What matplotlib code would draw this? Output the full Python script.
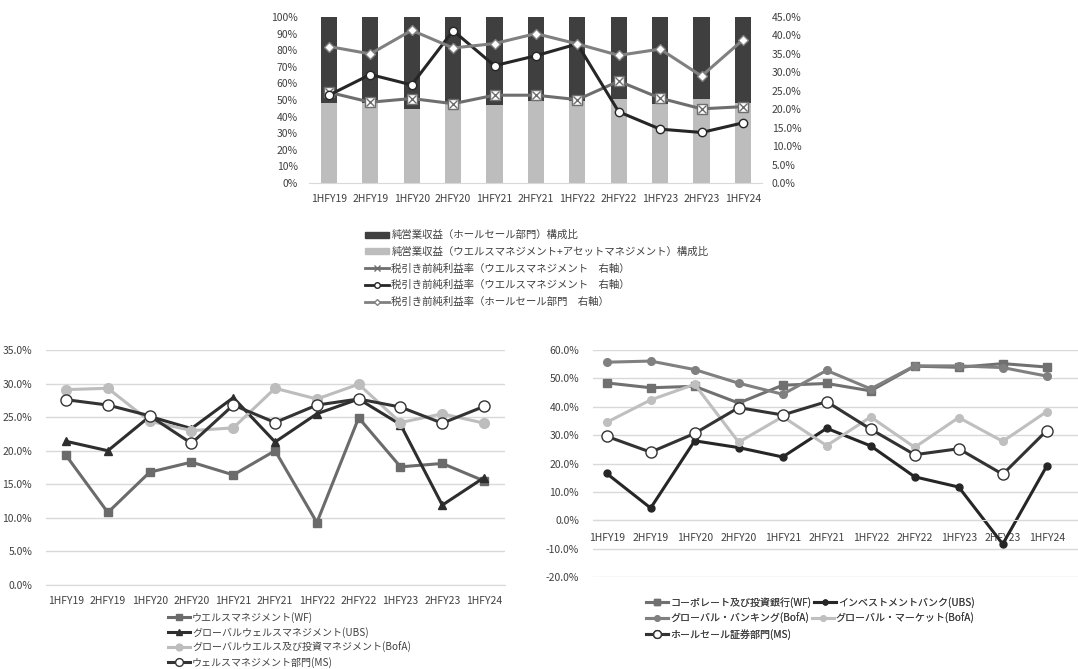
import numpy as np
import matplotlib.pyplot as plt
from matplotlib.ticker import FuncFormatter
from matplotlib.lines import Line2D
from matplotlib.patches import Patch

plt.rcParams['font.family'] = ['Noto Sans CJK JP', 'DejaVu Sans']
plt.rcParams['font.size'] = 7.5
plt.rcParams['text.color'] = '#404040'
plt.rcParams['xtick.color'] = '#404040'
plt.rcParams['ytick.color'] = '#404040'

periods = ['1HFY19', '2HFY19', '1HFY20', '2HFY20', '1HFY21', '2HFY21',
           '1HFY22', '2HFY22', '1HFY23', '2HFY23', '1HFY24']

# 上段：構成比（%）と税引き前純利益率（右軸, %）
wealth_share = [48.2, 48.0, 44.6, 48.0, 47.2, 49.6, 49.2, 50.8, 47.6, 50.8, 48.2]
wholesale_share = [100 - v for v in wealth_share]
margin_wealth_x = [24.6, 21.9, 22.9, 21.5, 23.8, 23.8, 22.6, 27.6, 23.0, 20.1, 20.7]
margin_wealth_o = [23.8, 29.4, 26.6, 41.3, 31.8, 34.5, 37.7, 19.3, 14.6, 13.7, 16.3]
margin_wholesale = [37.0, 35.0, 41.4, 36.6, 37.8, 40.5, 37.7, 34.6, 36.3, 29.0, 38.8]

# 下段左：ウエルスマネジメント部門
wm_wf = [19.3, 10.8, 16.8, 18.3, 16.4, 20.0, 9.3, 24.9, 17.6, 18.1, 15.5]
wm_ubs = [21.4, 20.0, 25.1, 23.3, 27.9, 21.3, 25.5, 27.7, 23.9, 11.9, 16.0]
wm_bofa = [29.1, 29.3, 24.4, 23.0, 23.4, 29.3, 27.7, 29.9, 24.2, 25.5, 24.1]
wm_ms = [27.6, 26.8, 25.2, 21.1, 26.8, 24.2, 26.8, 27.7, 26.5, 24.1, 26.6]

# 下段右：ホールセール部門
ws_wf = [48.4, 46.7, 47.2, 41.3, 47.6, 48.2, 45.6, 54.3, 53.9, 55.2, 54.0]
ws_ubs = [16.5, 4.3, 28.0, 25.6, 22.3, 32.4, 26.2, 15.3, 11.7, -8.4, 19.1]
ws_bofa_gb = [55.7, 56.1, 53.1, 48.3, 44.4, 52.8, 46.3, 54.4, 54.4, 53.8, 50.8]
ws_bofa_gm = [34.5, 42.4, 47.9, 27.5, 36.5, 26.3, 36.4, 25.7, 36.2, 27.8, 38.3]
ws_ms = [29.6, 24.0, 30.6, 39.7, 37.1, 41.8, 32.1, 23.1, 25.2, 16.2, 31.6]

W, H = 1078, 669
x = np.arange(len(periods))
GRID = '#d9d9d9'


def box(l, t, r, b):
    return [l / W, 1 - b / H, (r - l) / W, (b - t) / H]


def clean(ax):
    for s in ['top', 'left', 'right']:
        ax.spines[s].set_visible(False)
    ax.spines['bottom'].set_color(GRID)
    ax.tick_params(length=0)


fig = plt.figure(figsize=(W / 100, H / 100), dpi=100)

# ---- 上段 ----
ax = fig.add_axes(box(309, 17, 762, 183))
ax.bar(x, wealth_share, width=0.39, color='#bdbdbd', zorder=1)
ax.bar(x, wholesale_share, width=0.39, bottom=wealth_share, color='#3f3f3f', zorder=1)
ax.set_ylim(0, 100)
ax.set_xlim(-0.48, 10.46)
ax.set_yticks(np.arange(0, 101, 10))
ax.yaxis.set_major_formatter(FuncFormatter(lambda v, p: f'{v:.0f}%'))
ax.set_xticks(x)
ax.set_xticklabels(periods)
clean(ax)
ax.tick_params(axis='y', pad=8)
ax.tick_params(axis='x', pad=8)

ax2 = ax.twinx()
ax2.set_ylim(0, 45)
ax2.set_yticks(np.arange(0, 46, 5))
ax2.yaxis.set_major_formatter(FuncFormatter(lambda v, p: f'{v:.1f}%'))
for s in ['top', 'left', 'right', 'bottom']:
    ax2.spines[s].set_visible(False)
ax2.tick_params(length=0, pad=7)
ax2.plot(x, margin_wealth_x, color='#6e6e6e', lw=2.2, marker='s', ms=7,
         mfc='white', mec='#6e6e6e', mew=1, zorder=3)
ax2.plot(x, margin_wealth_x, ls='none', marker='x', ms=6, mec='#6e6e6e', mew=1, zorder=3)
ax2.plot(x, margin_wealth_o, color='#262626', lw=2.2, marker='o', ms=6,
         mfc='white', mec='#262626', mew=1, zorder=4)
ax2.plot(x, margin_wholesale, color='#808080', lw=2.2, marker='D', ms=5,
         mfc='white', mec='#808080', mew=1, zorder=4)

top_handles = [
    Patch(color='#3f3f3f'),
    Patch(color='#bdbdbd'),
    Line2D([], [], color='#6e6e6e', lw=2, marker='x', ms=4, mew=1),
    Line2D([], [], color='#262626', lw=2, marker='o', ms=4, mfc='white'),
    Line2D([], [], color='#808080', lw=2, marker='D', ms=3, mfc='white'),
]
top_labels = [
    '純営業収益（ホールセール部門）構成比',
    '純営業収益（ウエルスマネジメント+アセットマネジメント）構成比',
    '税引き前純利益率（ウエルスマネジメント　右軸）',
    '税引き前純利益率（ウエルスマネジメント　右軸）',
    '税引き前純利益率（ホールセール部門　右軸）',
]
fig.legend(top_handles, top_labels, loc='upper left', bbox_to_anchor=(360 / W, 1 - 225 / H),
           frameon=False, fontsize=7.5, handlelength=2.3, handleheight=0.5,
           handletextpad=0.2, labelspacing=0.62, borderpad=0)

# ---- 下段左 ----
ax3 = fig.add_axes(box(46, 350, 505, 585))
ax3.set_ylim(0, 35)
ax3.set_xlim(-0.48, 10.5)
ax3.set_yticks(np.arange(0, 36, 5))
ax3.yaxis.set_major_formatter(FuncFormatter(lambda v, p: f'{v:.1f}%'))
ax3.set_xticks(x)
ax3.set_xticklabels(periods)
ax3.grid(axis='y', color=GRID, lw=1)
ax3.set_axisbelow(True)
clean(ax3)
ax3.tick_params(axis='y', pad=10)
ax3.tick_params(axis='x', pad=8)
l1 = ax3.plot(x, wm_wf, color='#6b6b6b', lw=2.2, marker='s', ms=5.5,
              label='ウエルスマネジメント(WF)')
l2 = ax3.plot(x, wm_ubs, color='#2e2e2e', lw=2.2, marker='^', ms=6,
              label='グローバルウェルスマネジメント(UBS)')
l3 = ax3.plot(x, wm_bofa, color='#bdbdbd', lw=2.2, marker='o', ms=7,
              label='グローバルウエルス及び投資マネジメント(BofA)')
l4 = ax3.plot(x, wm_ms, color='#333333', lw=2.2, marker='o', ms=8,
              mfc='white', mec='#333333', mew=1, label='ウェルスマネジメント部門(MS)')
lines = l1 + l2 + l3 + l4
fig.legend(lines, [l.get_label() for l in lines], loc='upper left',
           bbox_to_anchor=(163 / W, 1 - 607 / H), frameon=False, fontsize=7.2,
           handlelength=2.2, handletextpad=0.2, labelspacing=0.4, borderpad=0,
           markerscale=0.7)

# ---- 下段右 ----
ax4 = fig.add_axes(box(593, 350, 1078, 577))
ax4.set_ylim(-20, 60)
ax4.set_xlim(-0.31, 10.71)
ax4.set_yticks(np.arange(-20, 61, 10))
ax4.yaxis.set_major_formatter(FuncFormatter(lambda v, p: f'{v:.1f}%'))
ax4.set_xticks(x)
ax4.set_xticklabels(periods)
ax4.grid(axis='y', color=GRID, lw=1)
ax4.set_axisbelow(True)
clean(ax4)
ax4.spines['bottom'].set_position(('data', 0))
ax4.tick_params(axis='y', pad=10)
ax4.tick_params(axis='x', pad=9)
r1 = ax4.plot(x, ws_wf, color='#707070', lw=2.2, marker='s', ms=5.5,
              label='コーポレート及び投資銀行(WF)')
r2 = ax4.plot(x, ws_ubs, color='#262626', lw=2.2, marker='o', ms=5,
              label='インベストメントバンク(UBS)')
r3 = ax4.plot(x, ws_bofa_gb, color='#808080', lw=2.2, marker='o', ms=5.5,
              label='グローバル・バンキング(BofA)')
r4 = ax4.plot(x, ws_bofa_gm, color='#bfbfbf', lw=2.2, marker='o', ms=5.5,
              label='グローバル・マーケット(BofA)')
r5 = ax4.plot(x, ws_ms, color='#333333', lw=2.2, marker='o', ms=8,
              mfc='white', mec='#333333', mew=1, label='ホールセール証券部門(MS)')

rows = [(r1 + r2, 592), (r3 + r4, 608), (r5, 624)]
for row, ytop in rows:
    leg = fig.legend(row, [l.get_label() for l in row], loc='upper left',
                     bbox_to_anchor=(641 / W, 1 - ytop / H), frameon=False,
                     fontsize=7.2, ncol=len(row), handlelength=2.2,
                     handletextpad=0.2, columnspacing=0.3, borderpad=0,
                     markerscale=0.7)
    fig.add_artist(leg)

fig.savefig('out.png', dpi=100)
